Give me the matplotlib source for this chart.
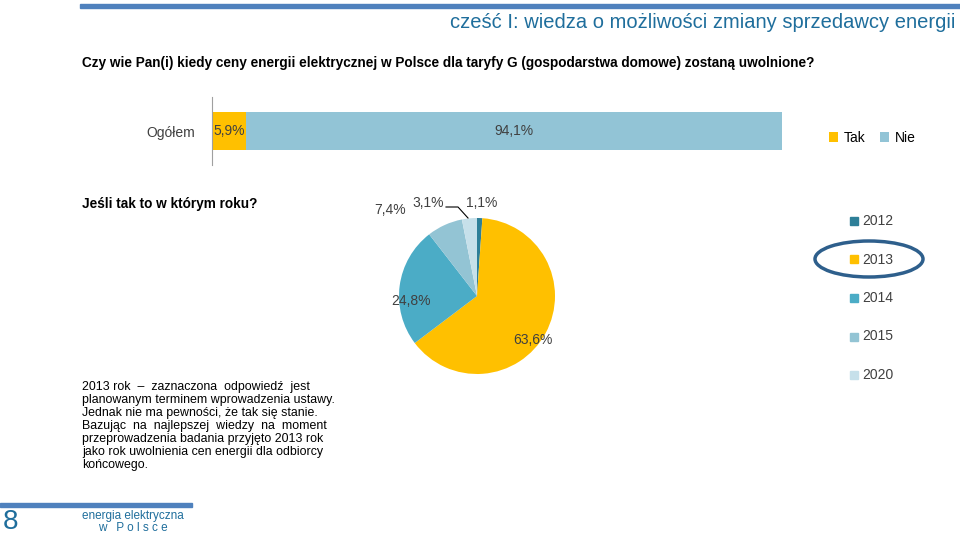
import matplotlib
matplotlib.use("Agg")
from matplotlib import pyplot as plt
from matplotlib.patches import Ellipse, Rectangle

bar_labels = ["Tak", "Nie"]
bar_values = [5.9, 94.1]
bar_colors = ["#FFC000", "#92C4D6"]

pie_years = ["2012", "2013", "2014", "2015", "2020"]
pie_values = [1.1, 63.6, 24.8, 7.4, 3.1]
pie_colors = ["#2E7F98", "#FFC000", "#4BACC6", "#93C4D4", "#C6E0EA"]

W, H = 960, 534
fig = plt.figure(figsize=(9.6, 5.34), dpi=100)

def fx(x): return x / W
def fy(y): return 1 - y / H

FONT = "Liberation Sans"

# decorative lines
fig.patches.append(Rectangle((fx(80), fy(8)), fx(880), 4 / H, color="#4F81BD", transform=fig.transFigure))
fig.patches.append(Rectangle((fx(0), fy(507)), fx(192), 4 / H, color="#4F81BD", transform=fig.transFigure))

fig.text(fx(955), fy(23), "cześć I: wiedza o możliwości zmiany sprzedawcy energii",
         ha="right", va="center", fontsize=14.5, color="#1F6E9C", fontfamily=FONT)
fig.text(fx(82), fy(63), "Czy wie Pan(i) kiedy ceny energii elektrycznej w Polsce dla taryfy G (gospodarstwa domowe) zostaną uwolnione?",
         ha="left", va="center", fontsize=9.8, fontweight="bold", fontfamily=FONT)
fig.text(fx(82), fy(204), "Jeśli tak to w którym roku?", ha="left", va="center",
         fontsize=9.8, fontweight="bold", fontfamily=FONT)

# stacked bar
axb = fig.add_axes([fx(212), fy(165), fx(570), 68 / H])
left = 0
for lab, v, c in zip(bar_labels, bar_values, bar_colors):
    axb.barh([0], [v], left=left, color=c, height=0.67, label=lab)
    axb.text(left + v / 2, 0, f"{v:.1f}%".replace(".", ","), ha="center", va="center",
             fontsize=10, fontfamily=FONT, color="#404040")
    left += v
axb.set_xlim(0, 100)
axb.set_ylim(-0.6, 0.6)
axb.set_yticks([0])
axb.set_yticklabels(["Ogółem"], fontsize=10, fontfamily=FONT, color="#404040")
axb.tick_params(axis="y", length=0, pad=12)
axb.set_xticks([])
for s in ["top", "right", "bottom"]:
    axb.spines[s].set_visible(False)
axb.spines["left"].set_color("#A0A0A0")
axb.legend(loc="center left", bbox_to_anchor=(1.06, 0.4), ncol=2, frameon=False,
           handlelength=0.7, handleheight=0.7, handletextpad=0.4, columnspacing=1.0,
           prop={"family": FONT, "size": 10})

# pie
axp = fig.add_axes([fx(399), fy(374), fx(156), 156 / H])
axp.pie(pie_values, colors=pie_colors, startangle=90, counterclock=False,
        wedgeprops={"linewidth": 0})
axp.set_xlim(-1, 1)
axp.set_ylim(-1, 1)
axp.set_aspect("equal")
lab_pos = [(482, 203), (533, 340), (411, 301), (390, 210), (428, 203)]
for v, p in zip(pie_values, lab_pos):
    fig.text(fx(p[0]), fy(p[1]), f"{v:.1f}%".replace(".", ","), ha="center", va="center",
             fontsize=10, fontfamily=FONT, color="#404040")
fig.add_artist(plt.Line2D([fx(446), fx(458), fx(468)], [fy(207), fy(207), fy(218)],
                          color="black", lw=0.8))

# pie legend
for i, (yr, c) in enumerate(zip(pie_years, pie_colors)):
    y = 221 + i * 38.5
    fig.patches.append(Rectangle((fx(850), fy(y + 4)), 8 / W, 8 / H, color=c, transform=fig.transFigure))
    fig.text(fx(862), fy(y), yr, ha="left", va="center", fontsize=10,
             fontfamily=FONT, color="#404040")
fig.patches.append(Ellipse((fx(869), fy(259)), 108 / W, 36 / H, fill=False,
                           edgecolor="#2E5F8C", lw=2.5, transform=fig.transFigure))

note = ("2013 rok  –  zaznaczona  odpowiedź  jest\nplanowanym terminem wprowadzenia ustawy.\n"
        "Jednak nie ma pewności, że tak się stanie.\nBazując  na  najlepszej  wiedzy  na  moment\n"
        "przeprowadzenia badania przyjęto 2013 rok\njako rok uwolnienia cen energii dla odbiorcy\nkońcowego.")
fig.text(fx(82), fy(381), note, ha="left", va="top", fontsize=8.9,
         fontfamily=FONT, linespacing=1.12)

fig.text(fx(10), fy(522), "8", ha="center", va="center", fontsize=20,
         fontfamily=FONT, color="#1F6E9C")
fig.text(fx(133), fy(516), "energia elektryczna", ha="center", va="center", fontsize=8.5,
         fontfamily=FONT, color="#1F6E9C")
fig.text(fx(133), fy(528), "w   P o l s c e", ha="center", va="center", fontsize=8.5,
         fontfamily=FONT, color="#1F6E9C")

fig.savefig("out.png", dpi=100)
